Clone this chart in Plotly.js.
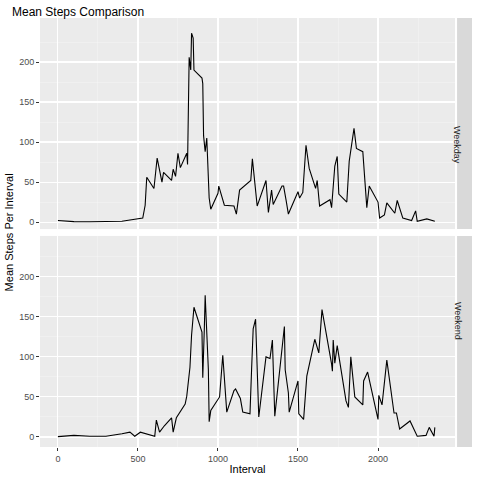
<!DOCTYPE html>
<html>
<head>
<meta charset="utf-8">
<script src="https://cdn.plot.ly/plotly-3.0.1.min.js"></script>
<style>body{margin:0}#plot{width:480px;height:480px}</style>
</head>
<body>
<div id="plot"></div>
<script>
const weekdayInterval = [0, 100, 200, 300, 400, 450, 530, 545, 555, 600, 620, 650, 660, 710, 720, 735, 750, 765, 805, 810, 815, 820, 830, 835, 845, 850, 900, 905, 910, 920, 930, 935, 945, 955, 1000, 1005, 1040, 1100, 1115, 1135, 1200, 1205, 1215, 1235, 1245, 1300, 1315, 1335, 1345, 1400, 1410, 1425, 1440, 1500, 1510, 1530, 1550, 1570, 1610, 1620, 1635, 1700, 1710, 1730, 1745, 1755, 1805, 1820, 1850, 1865, 1905, 1930, 1945, 2000, 2010, 2040, 2055, 2105, 2120, 2155, 2210, 2235, 2245, 2305, 2355];
const weekdaySteps = [2, 0.5, 0.4, 0.3, 1, 2.5, 5, 21, 56, 42, 80, 50, 62, 52, 66, 57, 86, 68, 86, 72, 168, 206, 190, 236, 230, 190, 180, 173, 108, 88, 105, 78, 30, 16, 36, 45, 21, 20, 10, 40, 52, 52, 79, 45, 20, 52, 12, 40, 22, 45, 45, 28, 10, 38, 30, 37, 96, 67, 42, 52, 20, 28, 18, 70, 82, 35, 25, 76, 117, 92, 88, 18, 45, 25, 5, 9, 24, 11, 27, 5, 2, 14, 1, 4, 1];
const weekendInterval = [0, 100, 200, 300, 400, 450, 480, 515, 605, 615, 635, 665, 710, 720, 740, 795, 805, 825, 835, 850, 900, 905, 915, 920, 940, 945, 955, 1010, 1030, 1055, 1100, 1110, 1140, 1155, 1200, 1205, 1210, 1220, 1235, 1255, 1300, 1325, 1340, 1355, 1415, 1420, 1440, 1445, 1500, 1505, 1535, 1555, 1605, 1630, 1650, 1710, 1715, 1720, 1730, 1745, 1800, 1815, 1830, 1855, 1905, 1910, 1935, 2000, 2005, 2025, 2055, 2100, 2115, 2135, 2200, 2245, 2300, 2320, 2350, 2355];
const weekendSteps = [0.5, 2, 1, 1, 4, 6, 1, 6, 1, 21, 6, 14, 24, 6, 24, 41, 51, 87, 127, 162, 131, 74, 137, 177, 84, 19, 33, 50, 102, 31, 58, 60, 48, 31, 29, 66, 84, 135, 147, 25, 100, 98, 121, 26, 138, 84, 55, 31, 70, 29, 22, 76, 122, 105, 159, 91, 82, 121, 92, 114, 45, 37, 100, 50, 40, 70, 81, 22, 52, 40, 96, 30, 30, 10, 20, 1, 2, 12, 1, 12, 2];
const panels = ['Weekday', 'Weekend'];

const line = { color: 'black', width: 1.1 };
const traces = [
  { x: weekdayInterval, y: weekdaySteps, type: 'scatter', mode: 'lines', line, xaxis: 'x', yaxis: 'y' },
  { x: weekendInterval, y: weekendSteps, type: 'scatter', mode: 'lines', line, xaxis: 'x2', yaxis: 'y2' }
];

const tickFont = { family: 'Liberation Sans, Arial', size: 9, color: '#4d4d4d' };
const xBase = {
  range: [-112, 2481], tickvals: [0, 500, 1000, 1500, 2000], showgrid: true,
  gridcolor: 'white', gridwidth: 1.1, zeroline: false, showline: false,
  ticks: 'outside', ticklen: 3, tickcolor: '#333', tickfont: tickFont,
  minor: { tickvals: [250, 750, 1250, 1750, 2250], showgrid: true, gridcolor: '#f5f5f5', gridwidth: 0.5, ticks: '' }
};
const yBase = {
  tickvals: [0, 50, 100, 150, 200], showgrid: true, gridcolor: 'white', gridwidth: 1.1,
  zeroline: false, showline: false, ticks: 'outside', ticklen: 3, tickcolor: '#333', tickfont: tickFont,
  minor: { tickvals: [25, 75, 125, 175, 225], showgrid: true, gridcolor: '#f5f5f5', gridwidth: 0.5, ticks: '' }
};

const layout = {
  width: 480, height: 480,
  margin: { l: 40, r: 25, t: 18, b: 33 },
  paper_bgcolor: 'white', plot_bgcolor: '#ebebeb',
  showlegend: false,
  font: { family: 'Liberation Sans, Arial' },
  title: { text: 'Mean Steps Comparison', x: 0.025, xanchor: 'left', y: 0.985, yanchor: 'top',
    font: { size: 12, color: 'black' } },
  xaxis: Object.assign({}, xBase, { anchor: 'y', showticklabels: false, ticks: '' }),
  xaxis2: Object.assign({}, xBase, { anchor: 'y2', title: { text: 'Interval', font: { size: 11, color: 'black' }, standoff: 2 } }),
  yaxis: Object.assign({}, yBase, { domain: [0.508, 1], range: [-8.75, 255] }),
  yaxis2: Object.assign({}, yBase, { domain: [0, 0.492], range: [-12.5, 251] }),
  shapes: [
    { type: 'rect', xref: 'paper', yref: 'paper', x0: 1.005, x1: 1.041, y0: 0.508, y1: 1, fillcolor: '#d9d9d9', line: { width: 0 } },
    { type: 'rect', xref: 'paper', yref: 'paper', x0: 1.005, x1: 1.041, y0: 0, y1: 0.492, fillcolor: '#d9d9d9', line: { width: 0 } }
  ],
  annotations: [
    { text: panels[0], xref: 'paper', yref: 'paper', x: 1.023, y: 0.754, textangle: 90, showarrow: false, font: { size: 9, color: '#1a1a1a' } },
    { text: panels[1], xref: 'paper', yref: 'paper', x: 1.023, y: 0.246, textangle: 90, showarrow: false, font: { size: 9, color: '#1a1a1a' } },
    { text: 'Mean Steps Per Interval', xref: 'paper', yref: 'paper', x: -0.075, y: 0.5, xanchor: 'center', textangle: -90, showarrow: false, font: { size: 11, color: 'black' } }
  ]
};

Plotly.newPlot('plot', traces, layout, { staticPlot: true });
</script>
</body>
</html>
